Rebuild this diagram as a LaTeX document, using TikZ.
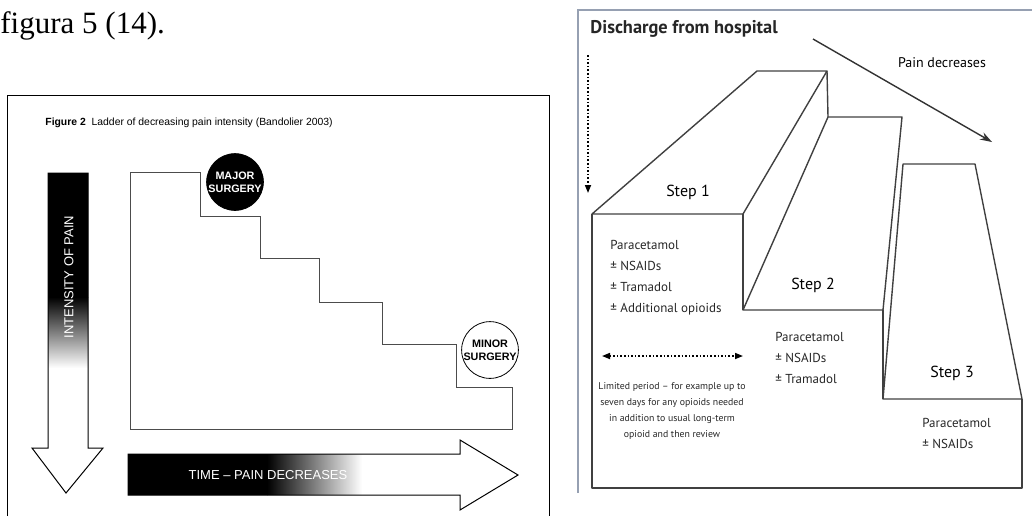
\documentclass[tikz,border=0pt]{standalone}
\usepackage{fontspec}
\setmainfont{Liberation Serif}
\newfontfamily\arialfont{Liberation Sans}
\newfontfamily\myriadfont{PT Sans}
\usepackage{tikz}
\usetikzlibrary{arrows.meta, positioning, calc}
\definecolor{framegray}{RGB}{150,160,178}

\begin{document}
\begin{tikzpicture}[
  x=0.5pt, y=-0.5pt,
  figtxt/.style={font=\arialfont\fontsize{5.2}{6}\selectfont, anchor=west, inner sep=0pt},
  axislbl/.style={font=\arialfont\fontsize{6.5}{7}\selectfont, text=white, inner sep=0pt},
  surgery/.style={circle, draw=black, line width=0.4pt, inner sep=0pt,
                  align=center, font=\arialfont\bfseries\fontsize{5.4}{6.4}\selectfont},
  ladder/.style={draw=black!70, line width=0.5pt},
  block/.style={draw=black!75, line width=0.7pt, line join=round},
  steplbl/.style={font=\myriadfont\fontsize{8}{9}\selectfont, inner sep=0pt},
  druglist/.style={font=\myriadfont\fontsize{6.5}{10.5}\selectfont, align=left,
                   anchor=north west, inner sep=0pt, text=black!85},
  note/.style={font=\myriadfont\fontsize{4.9}{8}\selectfont, align=center,
               inner sep=0pt, text=black!85},
  dotarrow/.style={densely dotted, line width=0.8pt, -{Triangle[length=4pt, width=3pt]}}
]
\useasboundingbox (0,0) rectangle (1032,516);

% left: ladder of decreasing pain intensity
\node[font=\fontsize{15.5}{18}\selectfont, anchor=base west, inner sep=0pt] (fig) at (0,33) {figura 5 (14).};
\draw[line width=0.5pt] (7,516) -- (7,95) -- (549,95) -- (549,516);
\node[figtxt] (caption) at (45,123) {\textbf{Figure 2}\ \ Ladder of decreasing pain intensity (Bandolier 2003)};

\begin{scope}
  \clip (48,173) -- (88,173) -- (88,448) -- (103,448) -- (66,493) -- (32,448) -- (48,448) -- cycle;
  \fill[black] (40,173) rectangle (110,298);
  \shade[top color=black, bottom color=white] (40,297) rectangle (110,368);
\end{scope}
\draw[line width=0.5pt] (48,173) -- (88,173) -- (88,448) -- (103,448) -- (66,493) -- (32,448) -- (48,448) -- cycle;
\node[axislbl, rotate=90] (intensity) at (69,277) {INTENSITY OF PAIN};

\begin{scope}
  \clip (128,454) -- (460,454) -- (460,440) -- (518,475) -- (460,510) -- (460,495) -- (128,495) -- cycle;
  \fill[black] (128,440) rectangle (268,510);
  \shade[left color=black, right color=white] (267,440) rectangle (362,510);
\end{scope}
\draw[line width=0.5pt] (128,454) -- (460,454) -- (460,440) -- (518,475) -- (460,510) -- (460,495) -- (128,495) -- cycle;
\node[axislbl] (time) at (268,475) {TIME – PAIN DECREASES};

\draw[ladder] (130,172) -- (200,172) -- (200,216) -- (260,216) -- (260,258) -- (319,258)
  -- (319,302) -- (382,302) -- (382,344) -- (456,344) -- (456,387) -- (512,387)
  -- (512,429) -- (130,429) -- cycle;

\node[surgery, fill=black, text=white, minimum size=28pt] (major) at (235,182) {MAJOR\\SURGERY};
\node[surgery, fill=white, minimum size=27pt] (minor) at (490,350) {MINOR\\SURGERY};

% right: steps after discharge
\draw[framegray, line width=1pt] (578,493) -- (578,10) -- (1032,10);
\node[font=\myriadfont\bfseries\fontsize{9.2}{11}\selectfont, anchor=west, inner sep=0pt, text=black!85] (discharge) at (590,29) {Discharge from hospital};

\coordinate (dropA) at (588,55);
\coordinate (dropB) at (588,193);
\draw[dotarrow] (dropA) -- (dropB);

\coordinate (painA) at (813,39);
\coordinate (painB) at (992,142);
\draw[line width=0.7pt, black!80, -{Stealth[length=6pt, width=4pt]}] (painA) -- (painB);
\node[font=\myriadfont\fontsize{7}{8}\selectfont, inner sep=0pt] (decrease) at (942,63) {Pain decreases};

\draw[block] (592,214) -- (757,71) -- (827,71) -- (743,214) -- cycle;
\draw[block] (743,214) -- (743,310);
\draw[block] (827,71) -- (828,117);
\draw[block] (828,117) -- (902,117) -- (883,310) -- (743,310) -- cycle;
\draw[block] (883,310) -- (883,399);
\draw[block] (903,164) -- (975,164) -- (1022,399) -- (883,399) -- cycle;
\draw[block] (592,214) -- (592,488) -- (1022,488) -- (1022,399);

\node[steplbl] (step1) at (688,192) {Step 1};
\node[steplbl] (step2) at (813,285) {Step 2};
\node[steplbl] (step3) at (952,373) {Step 3};

\node[druglist] (drugs1) at (610,240) {Paracetamol\\± NSAIDs\\± Tramadol\\± Additional opioids};
\node[druglist] (drugs2) at (775,332) {Paracetamol\\± NSAIDs\\± Tramadol};
\node[druglist] (drugs3) at (922,418) {Paracetamol\\± NSAIDs};

\coordinate (spanA) at (602,356);
\coordinate (spanB) at (743,356);
\draw[densely dotted, line width=0.8pt, {Triangle[length=4pt, width=3pt]}-{Triangle[length=4pt, width=3pt]}] (spanA) -- (spanB);
\node[note] (period) at (672,411) {Limited period – for example up to\\seven days for any opioids needed\\in addition to usual long-term\\opioid and then review};

\end{tikzpicture}
\end{document}
